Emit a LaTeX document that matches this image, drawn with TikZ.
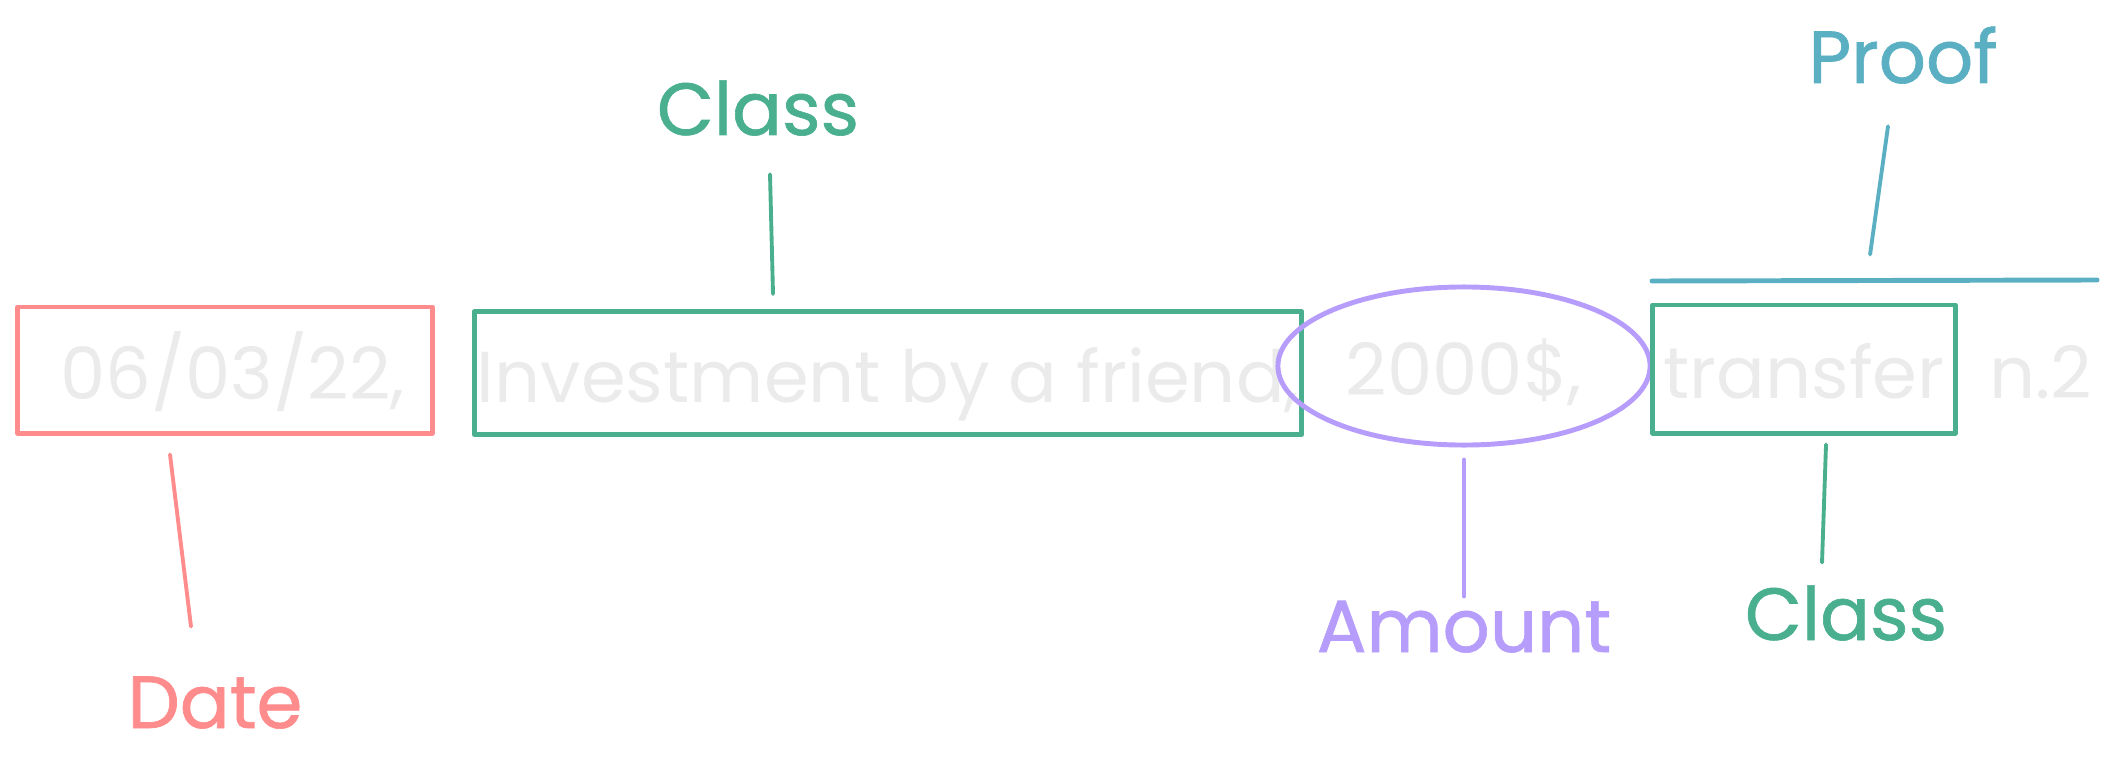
\documentclass[tikz,border=0pt]{standalone}
\usepackage{fontspec}
\setmainfont{Poppins}
\newfontfamily\labelfont[FakeBold=0.9]{Poppins}
\usepackage{xcolor}
\usepackage{tikz}
\usetikzlibrary{shapes,positioning,calc}

\definecolor{datered}{HTML}{FF8C8C}
\definecolor{classgreen}{HTML}{4AAF8E}
\definecolor{amountviolet}{HTML}{B69DFC}
\definecolor{proofblue}{HTML}{5AB0C2}
\definecolor{entrygray}{HTML}{EBEBEB}

\tikzset{
  entry/.style={font=\fontsize{20.5}{24}\selectfont, text=entrygray, text height=19pt, text depth=2pt, inner sep=0pt},
  entrybox/.style={draw=#1, line width=1.4pt, line join=round},
  fieldlabel/.style={font=\labelfont\fontsize{21}{25}\selectfont, text height=15pt, text depth=3pt, inner sep=0pt, anchor=base},
  leader/.style={draw=#1, line width=1.1pt, line cap=round}
}

\begin{document}
\begin{tikzpicture}[x=0.01cm,y=-0.01cm]
            \useasboundingbox (0,0) rectangle (2116,770);

            % Entry fields
            \node[entry, entrybox=datered, minimum width=4.14cm, minimum height=1.26cm] (date) at (225,370) {\hspace{0.15cm}06/03/22,};
            \node[entry, entrybox=classgreen, minimum width=8.27cm, minimum height=1.23cm] (class) at (888,373) {Investment by a friend,};
            \node[entry, entrybox=amountviolet, ellipse, minimum width=3.72cm, minimum height=1.58cm] (amount) at (1464,366) {2000\$,};
            \node[entry, entrybox=classgreen, minimum width=3.02cm, minimum height=1.28cm] (transfer) at (1804,369) {transfer};
            \node[entry, right=0.31cm of transfer] (number) {n.2};

            % Proof bar
            \coordinate (barl) at (1652,281);
            \coordinate (barr) at (2097,280);
            \draw[leader=proofblue, line width=1.4pt] (barl) -- (barr);

            % Labels
            \node[fieldlabel, text=datered] (datelbl) at (215,728) {Date};
            \node[fieldlabel, text=classgreen] (classlbl) at (758,135) {Class};
            \node[fieldlabel, text=amountviolet] (amountlbl) at (1464,652) {Amount};
            \node[fieldlabel, text=classgreen] (transferlbl) at (1846,640) {Class};
            \node[fieldlabel, text=proofblue] (prooflbl) at (1903,83) {Proof};

            % Leaders
            \draw[leader=datered] ($(date.south)+(-55,19)$) -- ($(datelbl.north)+(-24,-48)$);
            \draw[leader=classgreen] ($(classlbl.south)+(12,28)$) -- ($(class.north)+(-115,-15)$);
            \draw[leader=amountviolet] ($(amount.south)+(0,12)$) -- ($(amountlbl.north)+(0,-2)$);
            \draw[leader=classgreen] ($(transfer.south)+(22,9)$) -- ($(transferlbl.north)+(-24,-24)$);
            \draw[leader=proofblue] ($(prooflbl.south)+(-15,32)$) -- ($(barl)!.49!(barr)+(0,-26)$);
        \end{tikzpicture}
\end{document}
